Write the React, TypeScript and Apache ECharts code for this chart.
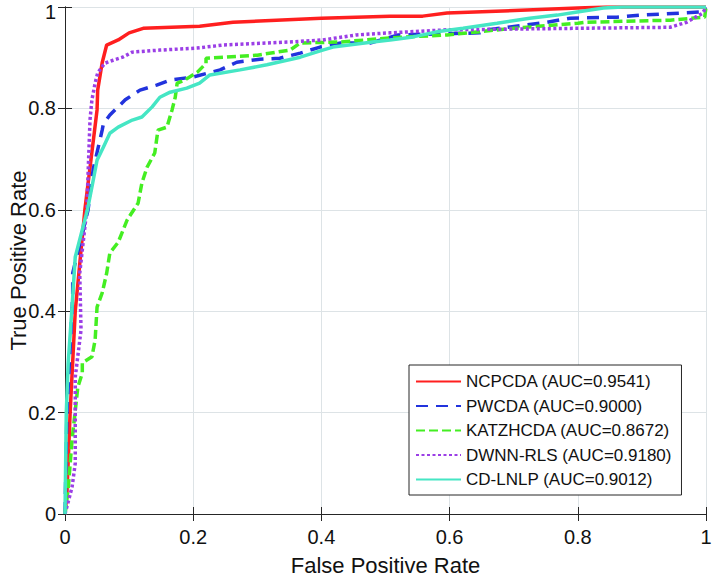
import React, { useEffect, useRef } from "react";
import * as echarts from "echarts";

const seriesNames = [
  "NCPCDA (AUC=0.9541)",
  "PWCDA (AUC=0.9000)",
  "KATZHCDA (AUC=0.8672)",
  "DWNN-RLS (AUC=0.9180)",
  "CD-LNLP (AUC=0.9012)",
];

const ncpcda = [[0,0],[0.003,0.04],[0.008,0.2],[0.016,0.4],[0.031,0.6],[0.05,0.797],[0.051,0.836],[0.058,0.89],[0.065,0.925],[0.083,0.935],[0.1,0.949],[0.122,0.958],[0.21,0.962],[0.262,0.97],[0.4,0.978],[0.507,0.982],[0.558,0.982],[0.596,0.988],[0.8,0.998],[0.845,1],[1,1]];

const pwcda = [[0,0],[0.003,0.2],[0.012,0.43],[0.012,0.475],[0.036,0.6],[0.044,0.68],[0.058,0.757],[0.06,0.77],[0.07,0.787],[0.094,0.817],[0.117,0.836],[0.143,0.846],[0.164,0.856],[0.2,0.862],[0.242,0.876],[0.268,0.891],[0.304,0.897],[0.335,0.899],[0.367,0.909],[0.398,0.921],[0.43,0.929],[0.476,0.929],[0.52,0.945],[0.647,0.949],[0.66,0.955],[0.752,0.97],[0.788,0.978],[0.861,0.98],[0.897,0.984],[0.99,0.99],[1,1]];

const katzhcda = [[0,0],[0.005,0.05],[0.011,0.146],[0.02,0.25],[0.027,0.278],[0.027,0.298],[0.042,0.31],[0.047,0.343],[0.05,0.408],[0.058,0.436],[0.065,0.475],[0.07,0.515],[0.083,0.536],[0.097,0.58],[0.114,0.613],[0.12,0.653],[0.128,0.684],[0.14,0.712],[0.145,0.757],[0.159,0.763],[0.167,0.797],[0.172,0.822],[0.175,0.85],[0.187,0.856],[0.207,0.872],[0.22,0.889],[0.22,0.899],[0.247,0.901],[0.3,0.905],[0.351,0.915],[0.367,0.929],[0.43,0.931],[0.507,0.939],[0.596,0.945],[0.7,0.958],[0.8,0.968],[0.814,0.97],[0.944,0.974],[0.998,0.98],[1,1]];

const dwnnrls = [[0,0],[0.011,0.053],[0.016,0.1],[0.016,0.27],[0.025,0.363],[0.023,0.475],[0.034,0.6],[0.039,0.777],[0.042,0.817],[0.047,0.85],[0.051,0.87],[0.062,0.889],[0.075,0.895],[0.09,0.901],[0.105,0.911],[0.148,0.915],[0.206,0.919],[0.247,0.925],[0.351,0.931],[0.402,0.935],[0.455,0.945],[0.507,0.949],[0.596,0.955],[0.803,0.958],[0.944,0.96],[0.97,0.97],[0.995,0.988],[1,1]];

const cdlnlp = [[0,0],[0.002,0.2],[0.005,0.298],[0.011,0.408],[0.016,0.507],[0.035,0.6],[0.042,0.645],[0.05,0.698],[0.06,0.724],[0.07,0.751],[0.083,0.763],[0.105,0.777],[0.12,0.783],[0.136,0.803],[0.148,0.822],[0.164,0.832],[0.19,0.84],[0.21,0.85],[0.226,0.866],[0.273,0.876],[0.315,0.886],[0.367,0.901],[0.402,0.915],[0.418,0.921],[0.48,0.931],[0.507,0.935],[0.543,0.941],[0.58,0.951],[0.621,0.958],[0.674,0.968],[0.725,0.978],[0.768,0.984],[0.799,0.99],[0.84,0.998],[0.87,1],[1,1]];

const FONT = "'Liberation Sans', Arial, Helvetica, sans-serif";

export default function App() {
  const ref = useRef<HTMLDivElement>(null);
  useEffect(() => {
    document.body.style.margin = "0";
    const chart = echarts.init(ref.current!, null, { renderer: "svg" });
    const dataSets = [ncpcda, pwcda, katzhcda, dwnnrls, cdlnlp];
    const colors = ["#ff1f1f", "#2233dd", "#44ee22", "#9b3fe6", "#45e6c4"];
    const dashes: any[] = ["solid", [12, 8], [9, 4], [3, 2.5], "solid"];
    const grid = { left: 65, top: 7, width: 641, height: 507, outerBoundsMode: "none", containLabel: false };
    const axisLine = { show: true, lineStyle: { color: "#262626", width: 1 } };
    chart.setOption({
      animation: false,
      backgroundColor: "#ffffff",
      grid,
      legend: {
        orient: "vertical",
        left: 409,
        top: 365,
        itemWidth: 45,
        itemHeight: 14,
        itemGap: 7.5,
        padding: [8, 10, 7, 6],
        borderColor: "#262626",
        borderWidth: 1,
        backgroundColor: "#ffffff",
        itemStyle: { opacity: 0, borderWidth: 0 },
        textStyle: { fontSize: 17, fontFamily: FONT, color: "#111" },
        data: seriesNames,
      },
      xAxis: [
        {
          type: "value",
          min: 0,
          max: 1,
          interval: 0.2,
          name: "False Positive Rate",
          nameLocation: "middle",
          nameGap: 40,
          nameMoveOverlap: false,
          nameTextStyle: { fontSize: 22, fontFamily: FONT, color: "#111" },
          axisLine,
          axisTick: { show: true, inside: true, length: 7, lineStyle: { color: "#262626" } },
          axisLabel: { fontSize: 20, fontFamily: FONT, color: "#111", margin: 13 },
          splitLine: { show: true, lineStyle: { color: "#dde3e6", width: 1 } },
        },
        {
          type: "value",
          position: "top",
          min: 0,
          max: 1,
          interval: 0.2,
          axisLine,
          axisTick: { show: true, inside: true, length: 7, lineStyle: { color: "#262626" } },
          axisLabel: { show: false },
          splitLine: { show: false },
        },
      ],
      yAxis: [
        {
          type: "value",
          min: 0,
          max: 1,
          interval: 0.2,
          name: "True Positive Rate",
          nameLocation: "middle",
          nameGap: 36,
          nameMoveOverlap: false,
          nameTextStyle: { fontSize: 22, fontFamily: FONT, color: "#111" },
          axisLine,
          axisTick: { show: true, inside: true, length: 7, lineStyle: { color: "#262626" } },
          axisLabel: {
            fontSize: 20,
            fontFamily: FONT,
            color: "#111",
            margin: 9,
            formatter: (v: number) => (v === 1 ? "{top|1}" : String(v)),
            rich: { top: { fontSize: 20, fontFamily: FONT, color: "#111", padding: [9, 0, 0, 0] } },
          },
          splitLine: { show: true, lineStyle: { color: "#dde3e6", width: 1 } },
        },
        {
          type: "value",
          position: "right",
          min: 0,
          max: 1,
          interval: 0.2,
          axisLine,
          axisTick: { show: true, inside: true, length: 7, lineStyle: { color: "#262626" } },
          axisLabel: { show: false },
          splitLine: { show: false },
        },
      ],
      series: seriesNames.map((name, i) => ({
        name,
        type: "line",
        data: dataSets[i],
        xAxisIndex: 0,
        yAxisIndex: 0,
        symbol: "none",
        clip: true,
        color: colors[i],
        lineStyle: { color: colors[i], width: 3.5, type: dashes[i] },
        itemStyle: { color: colors[i] },
      })),
    });
    return () => chart.dispose();
  }, []);
  return <div ref={ref} style={{ width: 712, height: 576 }} />;
}
